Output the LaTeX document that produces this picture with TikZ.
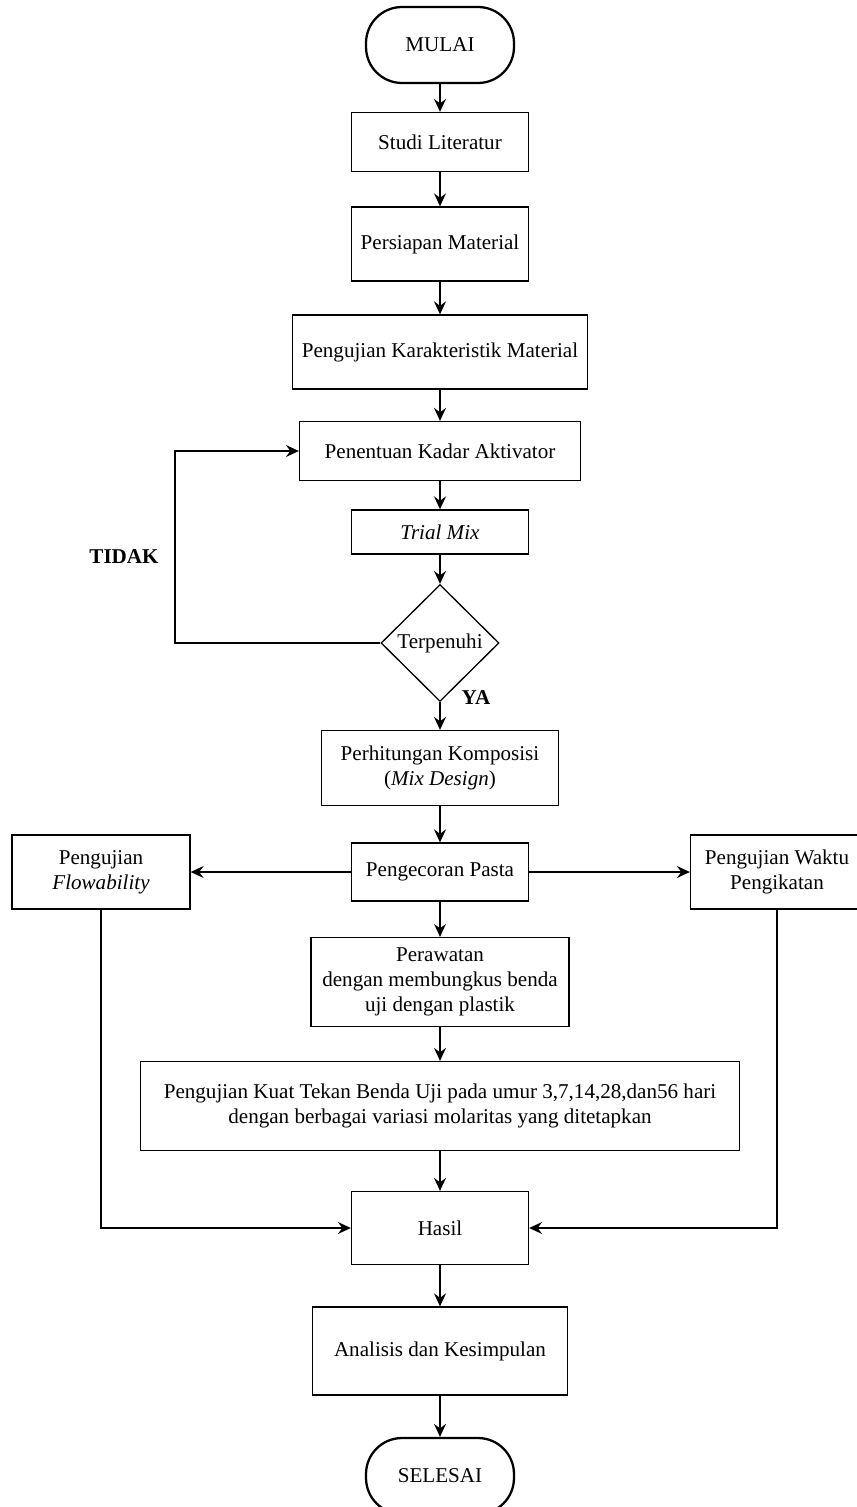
\documentclass[tikz,border=0pt]{standalone}
\usepackage{fontspec}
\setmainfont{Liberation Serif}
\usetikzlibrary{shapes.geometric, arrows.meta, positioning, calc}

\begin{document}
\begin{tikzpicture}[
    x=0.02cm, y=-0.02cm,
    every node/.style={font=\fontsize{12}{14.2}\selectfont, align=center, inner sep=0pt},
    proses/.style={draw, line width=0.75pt, rectangle},
    terminal/.style={draw, line width=1.3pt, rectangle, rounded corners=0.72cm, minimum width=2.96cm, minimum height=1.52cm},
    keputusan/.style={draw, line width=0.75pt, diamond, minimum width=2.36cm, minimum height=2.34cm},
    panah/.style={line width=0.85pt, -{Stealth[length=2.6mm, width=2.4mm, inset=0.9mm]}},
    jawab/.style={font=\fontsize{12}{14.2}\selectfont\bfseries}
]
\useasboundingbox (0,0) rectangle (857,1507);

\node[terminal] (mulai) at (440,45) {MULAI};
\node[proses, minimum width=3.54cm, minimum height=1.18cm] (studi) at (440,142) {Studi Literatur};
\node[proses, minimum width=3.54cm, minimum height=1.48cm] (persiapan) at (440,244) {Persiapan Material};
\node[proses, minimum width=5.9cm, minimum height=1.48cm] (karakteristik) at (440,352) {Pengujian Karakteristik Material};
\node[proses, minimum width=5.62cm, minimum height=1.18cm] (kadar) at (440,451) {Penentuan Kadar Aktivator};
\node[proses, minimum width=3.54cm, minimum height=0.88cm] (trial) at (440,532) {\textit{Trial Mix}};
\node[keputusan] (cek) at (440,643) {Terpenuhi};
\node[proses, minimum width=4.74cm, minimum height=1.5cm] (komposisi) at (440,768) {Perhitungan Komposisi\\(\textit{Mix Design})};
\node[proses, minimum width=3.54cm, minimum height=1.16cm] (pengecoran) at (440,872) {Pengecoran Pasta};
\node[proses, minimum width=3.56cm, minimum height=1.48cm] (flow) at (101,872) {Pengujian\\\textit{Flowability}};
\node[proses, minimum width=3.46cm, minimum height=1.48cm] (waktu) at (777,872) {Pengujian Waktu\\Pengikatan};
\node[proses, minimum width=5.16cm, minimum height=1.78cm] (perawatan) at (440,982) {Perawatan\\dengan membungkus benda\\uji dengan plastik};
\node[proses, minimum width=11.98cm, minimum height=1.78cm] (kuattekan) at (440,1106) {Pengujian Kuat Tekan Benda Uji pada umur 3,7,14,28,dan56 hari\\dengan berbagai variasi molaritas yang ditetapkan};
\node[proses, minimum width=3.54cm, minimum height=1.46cm] (hasil) at (440,1228) {Hasil};
\node[proses, minimum width=5.1cm, minimum height=1.76cm] (analisis) at (440,1351) {Analisis dan Kesimpulan};
\node[terminal] (selesai) at (440,1476) {SELESAI};

\node[jawab] (tidak) at (124,557) {TIDAK};
\node[jawab] (ya) at (476,698) {YA};
\coordinate (balik) at (175,643);

\draw[panah] (mulai) -- (studi);
\draw[panah] (studi) -- (persiapan);
\draw[panah] (persiapan) -- (karakteristik);
\draw[panah] (karakteristik) -- (kadar);
\draw[panah] (kadar) -- (trial);
\draw[panah] (trial) -- (cek);
\draw[panah] (cek) -- (komposisi);
\draw[panah] (cek.west) -- (balik) |- (kadar.west);
\draw[panah] (komposisi) -- (pengecoran);
\draw[panah] (pengecoran) -- (flow);
\draw[panah] (pengecoran) -- (waktu);
\draw[panah] (pengecoran) -- (perawatan);
\draw[panah] (perawatan) -- (kuattekan);
\draw[panah] (kuattekan) -- (hasil);
\draw[panah] (flow.south) |- (hasil.west);
\draw[panah] (waktu.south) |- (hasil.east);
\draw[panah] (hasil) -- (analisis);
\draw[panah] (analisis) -- (selesai);
\end{tikzpicture}
\end{document}
